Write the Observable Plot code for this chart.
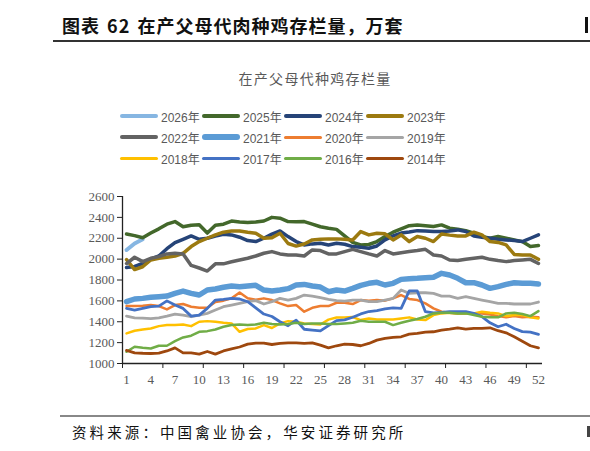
<!DOCTYPE html>
<html><head><meta charset="utf-8">
<script src="https://cdn.jsdelivr.net/npm/d3@7"></script>
<script src="https://cdn.jsdelivr.net/npm/@observablehq/plot@0.6"></script>
<style>
html,body{margin:0;padding:0;background:#fff;}
body{position:relative;width:590px;height:451px;overflow:hidden;font-family:"Noto Sans CJK SC",sans-serif;}
.abs{position:absolute;white-space:nowrap;}
#heading{left:62px;top:12px;font-size:18px;font-weight:700;color:#111;letter-spacing:1px;word-spacing:2px;line-height:26px;}
#hline{left:53px;top:40px;width:537px;height:1.5px;background:#333;}
#title{left:0;width:630px;text-align:center;top:68px;font-size:14px;color:#595959;letter-spacing:1.3px;line-height:20px;}
.leg{position:absolute;height:16px;display:flex;align-items:center;font-family:"Liberation Sans","Noto Sans CJK SC",sans-serif;font-size:12px;color:#595959;}
.sw{display:inline-block;width:38px;border-radius:3px;margin-right:3px;}
#bline{left:60px;top:415px;width:530px;height:1.5px;background:#888;}
#source{left:72px;top:421px;font-size:14.5px;color:#111;letter-spacing:3.1px;line-height:22px;}
#chart{left:0;top:180px;}
</style></head>
<body>
<div class="abs" id="heading">图表 62 在产父母代肉种鸡存栏量，万套</div>
<div class="abs" style="left:585px;top:17px;width:3px;height:16px;background:#111;"></div>
<div class="abs" id="hline"></div>
<div class="abs" id="title">在产父母代种鸡存栏量</div>
<div id="legend"></div>
<div class="abs" id="chart"></div>
<div class="abs" id="bline"></div>
<div class="abs" id="source">资料来源：中国禽业协会，华安证券研究所</div>
<div class="abs" style="left:587px;top:426px;width:3px;height:11px;background:#444;"></div>
<script>
// ---- data ----
const years = ["2026年","2025年","2024年","2023年","2022年","2021年","2020年","2019年","2018年","2017年","2016年","2014年"];
const colors = ["#86B6E2","#43682B","#264478","#9C7A10","#636363","#5B9BD5","#ED7D31","#A5A5A5","#FFC000","#4472C4","#70AD47","#9E480E"];
const widths = [4,3.5,3.5,3.5,3.5,5.5,2.5,2.8,2.5,2.8,2.5,2.8];
const xTickLabels = [1,4,7,10,13,16,19,22,25,28,31,34,37,40,43,46,49,52];
const yTicks = [1000,1200,1400,1600,1800,2000,2200,2400,2600];

const v2026 = [2088,2150,2190];
const v2025 = [2240,2225,2205,2250,2290,2335,2360,2310,2325,2330,2250,2325,2335,2365,2355,2350,2355,2365,2400,2392,2360,2358,2360,2335,2310,2295,2285,2222,2160,2136,2140,2168,2216,2258,2290,2320,2328,2320,2312,2328,2296,2286,2273,2248,2216,2200,2216,2200,2184,2168,2120,2130];
const v2024 = [1920,1930,1958,2000,2030,2100,2158,2190,2222,2190,2200,2222,2238,2232,2210,2178,2168,2200,2240,2270,2216,2168,2136,2146,2152,2136,2152,2142,2120,2113,2104,2126,2184,2222,2250,2260,2273,2270,2264,2264,2270,2280,2264,2222,2210,2200,2190,2184,2178,2168,2200,2232];
const v2023 = [1995,1900,1927,1992,2008,2018,2030,2056,2120,2168,2200,2232,2258,2270,2270,2258,2248,2200,2205,2248,2150,2125,2145,2184,2190,2194,2194,2190,2184,2264,2232,2248,2242,2184,2232,2168,2216,2200,2168,2240,2230,2222,2222,2258,2232,2168,2160,2136,2045,2040,2040,1998];
const v2022 = [1958,2018,1976,2008,2024,2050,2056,2050,1940,1915,1886,1955,1955,1975,1992,2008,2030,2056,2072,2050,2040,2040,2030,2088,2082,2050,2050,2072,2094,2072,2050,2030,2082,2050,2062,2072,2082,2094,2040,2030,1992,1986,1998,2008,2018,1998,1986,1976,1986,1992,1998,1958];
const v2021 = [1592,1618,1624,1634,1640,1646,1672,1694,1672,1656,1704,1714,1730,1742,1736,1742,1749,1704,1694,1704,1717,1752,1758,1742,1732,1688,1704,1694,1720,1749,1768,1778,1752,1768,1806,1813,1816,1822,1826,1864,1848,1816,1774,1774,1752,1720,1736,1758,1774,1768,1768,1762];
const v2020 = [1550,1550,1554,1560,1550,1518,1560,1570,1544,1534,1534,1589,1602,1624,1680,1625,1610,1624,1608,1576,1550,1560,1496,1534,1550,1550,1582,1582,1570,1608,1602,1608,1602,1624,1656,1618,1608,1576,1528,1496,1486,1480,1480,1480,1480,1470,1454,1442,1454,1442,1448,1442];
const v2019 = [1454,1438,1435,1429,1438,1454,1474,1464,1448,1464,1480,1512,1544,1560,1576,1592,1602,1570,1592,1624,1608,1624,1656,1646,1630,1614,1602,1598,1608,1608,1592,1592,1608,1624,1704,1672,1678,1678,1672,1646,1646,1624,1640,1624,1608,1592,1576,1576,1570,1570,1570,1589];
const v2018 = [1288,1314,1326,1336,1358,1368,1368,1374,1358,1400,1406,1400,1390,1384,1304,1330,1336,1368,1340,1384,1406,1400,1384,1378,1374,1420,1440,1440,1445,1416,1432,1422,1422,1422,1432,1442,1422,1416,1464,1480,1486,1480,1480,1480,1496,1486,1480,1454,1464,1464,1442,1432];
const v2017 = [1528,1512,1528,1544,1550,1600,1560,1528,1454,1464,1528,1608,1614,1624,1618,1592,1534,1474,1450,1400,1362,1415,1328,1320,1312,1363,1411,1418,1443,1475,1498,1507,1523,1533,1528,1695,1695,1496,1486,1490,1496,1496,1496,1480,1450,1390,1352,1376,1335,1305,1300,1280];
const v2016 = [1112,1160,1150,1144,1170,1170,1214,1250,1266,1304,1310,1326,1352,1368,1374,1368,1374,1390,1378,1374,1378,1390,1378,1384,1384,1378,1378,1384,1390,1410,1400,1400,1400,1368,1390,1410,1426,1448,1480,1486,1486,1480,1480,1464,1448,1442,1442,1480,1486,1474,1454,1502];
const v2014 = [1125,1102,1098,1096,1100,1120,1150,1102,1102,1090,1115,1090,1120,1140,1158,1186,1195,1195,1182,1192,1198,1198,1192,1198,1176,1150,1170,1186,1182,1170,1192,1224,1240,1250,1256,1282,1288,1301,1304,1320,1330,1342,1330,1336,1336,1342,1314,1294,1256,1214,1170,1150];

const seriesValues = [v2026,v2025,v2024,v2023,v2022,v2021,v2020,v2019,v2018,v2017,v2016,v2014];

// ---- legend ----
const legCols = [120,202,284,366];
const legRows = [108,129,150];
const leg = document.getElementById("legend");
years.forEach((y,i)=>{
  const d = document.createElement("div");
  d.className = "leg";
  d.style.left = legCols[i%4] + "px";
  d.style.top = legRows[Math.floor(i/4)] + "px";
  const sw = document.createElement("span");
  sw.className = "sw";
  sw.style.background = colors[i];
  sw.style.height = Math.max(3, widths[i]) + "px";
  d.appendChild(sw);
  d.appendChild(document.createTextNode(y));
  leg.appendChild(d);
});

// ---- chart ----
const marks = [];
seriesValues.forEach((vals,i)=>{
  const data = vals.map((v,k)=>({week:k+1, value:v}));
  marks.push(Plot.line(data,{x:"week",y:"value",stroke:colors[i],strokeWidth:widths[i],strokeLinejoin:"round",strokeLinecap:"round"}));
});
const boundaries = d3.range(0, 51, 5).map(d=>d+0.5);
const chart = Plot.plot({
  width:590, height:215,
  marginTop:16, marginBottom:32, marginLeft:122, marginRight:48,
  style:{fontFamily:"'Liberation Serif','Times New Roman',serif", fontSize:"13px", background:"transparent", color:"#595959"},
  x:{domain:[0.5,52.5], axis:null, label:null},
  y:{domain:[1000,2600], axis:null, label:null},
  marks:[
    Plot.axisY(yTicks,{tickSize:5, tickPadding:3, stroke:"#222", fill:"#595959", tickFormat:d=>String(d), fontSize:13, label:null}),
    Plot.axisX(xTickLabels,{tickSize:0, tickPadding:11, fill:"#595959", tickFormat:d=>String(d), fontSize:13, label:null}),
    Plot.axisX(boundaries,{tickSize:5, stroke:"#222", tickFormat:()=>"", label:null}),
    ...marks,
    Plot.ruleX([0.5],{stroke:"#222", strokeWidth:1.3}),
    Plot.ruleY([1000],{stroke:"#222", strokeWidth:1.3})
  ]
});
document.getElementById("chart").appendChild(chart);
</script>
</body></html>
